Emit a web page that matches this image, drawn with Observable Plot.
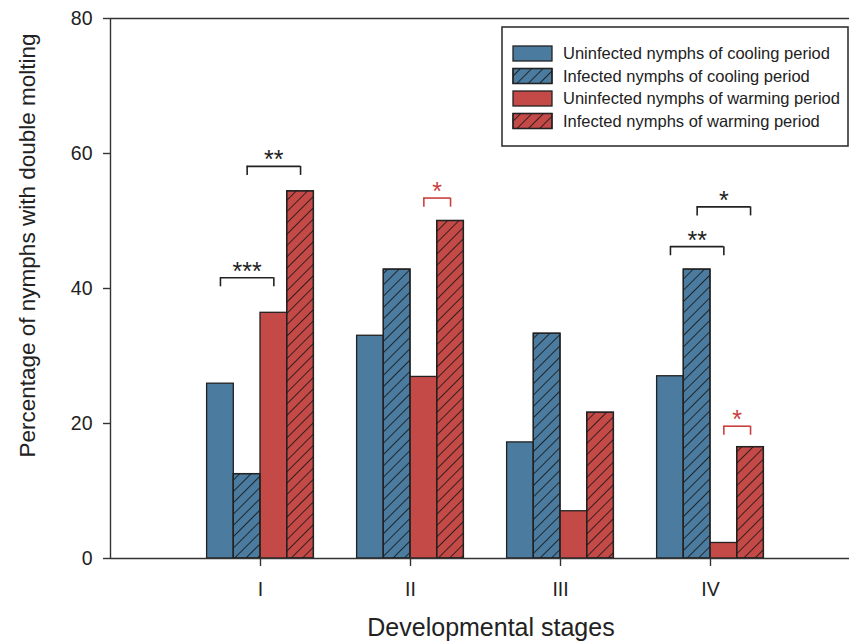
<!DOCTYPE html>
<html><head><meta charset="utf-8">
<script src="https://cdn.jsdelivr.net/npm/d3@7"></script>
<script src="https://cdn.jsdelivr.net/npm/@observablehq/plot@0.6"></script>
<style>body{margin:0;background:#fff} svg{display:block}</style>
</head><body><div id="chart"></div>
<script>
const stages = ["I", "II", "III", "IV"];
const seriesNames = [
  "Uninfected nymphs of cooling period",
  "Infected nymphs of cooling period",
  "Uninfected nymphs of warming period",
  "Infected nymphs of warming period"
];
const seriesColors = ["#4b7b9e", "#4b7b9e", "#c44a48", "#c44a48"];
const seriesHatched = [false, true, false, true];
const uninfectedCooling = [25.9, 33.0, 17.2, 27.0];
const infectedCooling = [12.5, 42.8, 33.3, 42.8];
const uninfectedWarming = [36.4, 26.9, 7.0, 2.3];
const infectedWarming = [54.4, 50.0, 21.6, 16.5];
const yTicks = [0, 20, 40, 60, 80];

// significance brackets: stage number, from bar, to bar, bracket height, label, colour
const bracketStage = [1, 1, 2, 4, 4, 4];
const bracketFrom = [0, 1, 2, 0, 1, 2];
const bracketTo = [2, 3, 3, 2, 3, 3];
const bracketTop = [41.6, 58.1, 53.4, 46.2, 52.1, 19.6];
const bracketLabel = ["***", "**", "*", "**", "*", "*"];
const bracketRed = [false, false, true, false, false, true];

const barW = 0.178;
const seriesValues = [uninfectedCooling, infectedCooling, uninfectedWarming, infectedWarming];
const bars = [];
stages.forEach((s, i) => seriesNames.forEach((name, j) => {
  bars.push({stage: i + 1, j, series: name, value: seriesValues[j][i], hatched: seriesHatched[j]});
}));
const left = d => d.stage + (d.j - 2) * barW;
const center = (stage, j) => stage + (j - 1.5) * barW;

const brackets = bracketStage.map((st, k) => ({
  stage: st, from: bracketFrom[k], to: bracketTo[k], top: bracketTop[k],
  label: bracketLabel[k], red: bracketRed[k]
}));
const legLen = 1.35;
const legs = brackets.flatMap(b => [
  {x: center(b.stage, b.from), y1: b.top - legLen, y2: b.top, red: b.red},
  {x: center(b.stage, b.to), y1: b.top - legLen, y2: b.top, red: b.red}
]);
const RED = "#c9413f", INK = "#222";

function bracketMarks(isRed) {
  const col = isRed ? RED : INK;
  return [
    Plot.ruleY(brackets, {filter: b => b.red === isRed, y: "top",
      x1: b => center(b.stage, b.from), x2: b => center(b.stage, b.to), stroke: col, strokeWidth: 1.6}),
    Plot.ruleX(legs, {filter: l => l.red === isRed, x: "x", y1: "y1", y2: "y2", stroke: col, strokeWidth: 1.6}),
    Plot.text(brackets, {filter: b => b.red === isRed, y: "top",
      x: b => (center(b.stage, b.from) + center(b.stage, b.to)) / 2,
      text: "label", fill: col, fontSize: 25, lineAnchor: "middle", dy: -6})
  ];
}

const plot = Plot.plot({
  width: 849, height: 643,
  marginLeft: 110, marginRight: 0, marginTop: 18, marginBottom: 85,
  style: {fontFamily: "'Liberation Sans', Arial, Helvetica, sans-serif", color: INK, background: "white", overflow: "visible"},
  x: {domain: [0, 5], range: [110, 860], label: null},
  y: {domain: [0, 80], label: null},
  color: {domain: seriesNames, range: seriesColors},
  marks: [
    Plot.rect(bars, {x1: left, x2: d => left(d) + barW, y1: 0, y2: "value", fill: "series", stroke: INK, strokeWidth: 1.3}),
    Plot.rect(bars, {filter: d => d.hatched, x1: left, x2: d => left(d) + barW, y1: 0, y2: "value", fill: "url(#hatch)", stroke: INK, strokeWidth: 1.3}),
    Plot.ruleY([0], {stroke: "#333", strokeWidth: 1.4}),
    Plot.ruleY([80], {stroke: "#333", strokeWidth: 1.4}),
    Plot.ruleX([0], {y1: 0, y2: 80, stroke: "#333", strokeWidth: 1.4}),
    Plot.axisY({ticks: yTicks, tickSize: 7, tickPadding: 11, fontSize: 19.5, label: null, stroke: "#333", strokeWidth: 1.4}),
    Plot.axisX({ticks: [1, 2, 3, 4], tickFormat: d => stages[d - 1], tickSize: 8, tickPadding: 16, fontSize: 19.5, label: null, stroke: "#333", strokeWidth: 1.4}),
    ...bracketMarks(false),
    ...bracketMarks(true),
    Plot.text(["Developmental stages"], {frameAnchor: "bottom", lineAnchor: "bottom", textAnchor: "middle", dx: 11, dy: 77, fontSize: 25, fill: INK}),
    Plot.text(["Percentage of nymphs with double molting"], {frameAnchor: "left", lineAnchor: "bottom", textAnchor: "middle", rotate: -90, dx: -76, dy: -43, fontSize: 22.5, fill: INK})
  ]
});

const svg = d3.select(plot);
const defs = svg.insert("defs", ":first-child");
const pat = defs.append("pattern").attr("id", "hatch").attr("patternUnits", "userSpaceOnUse")
  .attr("width", 8).attr("height", 8).attr("patternTransform", "rotate(45)");
pat.append("line").attr("x1", 0).attr("y1", 0).attr("x2", 0).attr("y2", 8)
  .attr("stroke", "#111").attr("stroke-width", 1.6);

// legend
const lg = svg.append("g").attr("font-family", "'Liberation Sans', Arial, Helvetica, sans-serif").attr("text-anchor", "start");
lg.append("rect").attr("x", 502).attr("y", 27).attr("width", 346).attr("height", 119)
  .attr("fill", "white").attr("stroke", "#333").attr("stroke-width", 1.6);
const rowY = [53.5, 76, 98.5, 121];
seriesNames.forEach((name, j) => {
  const y = rowY[j];
  lg.append("rect").attr("x", 513).attr("y", y - 7.5).attr("width", 39).attr("height", 15)
    .attr("fill", seriesColors[j]).attr("stroke", INK).attr("stroke-width", 1.3);
  if (seriesHatched[j]) lg.append("rect").attr("x", 513).attr("y", y - 7.5).attr("width", 39).attr("height", 15)
    .attr("fill", "url(#hatch)").attr("stroke", INK).attr("stroke-width", 1.3);
  lg.append("text").attr("x", 563).attr("y", y).attr("dy", "0.35em").attr("font-size", 16.5)
    .attr("text-anchor", "start").attr("fill", INK).text(name);
});

document.getElementById("chart").appendChild(plot);
</script>
</body></html>
